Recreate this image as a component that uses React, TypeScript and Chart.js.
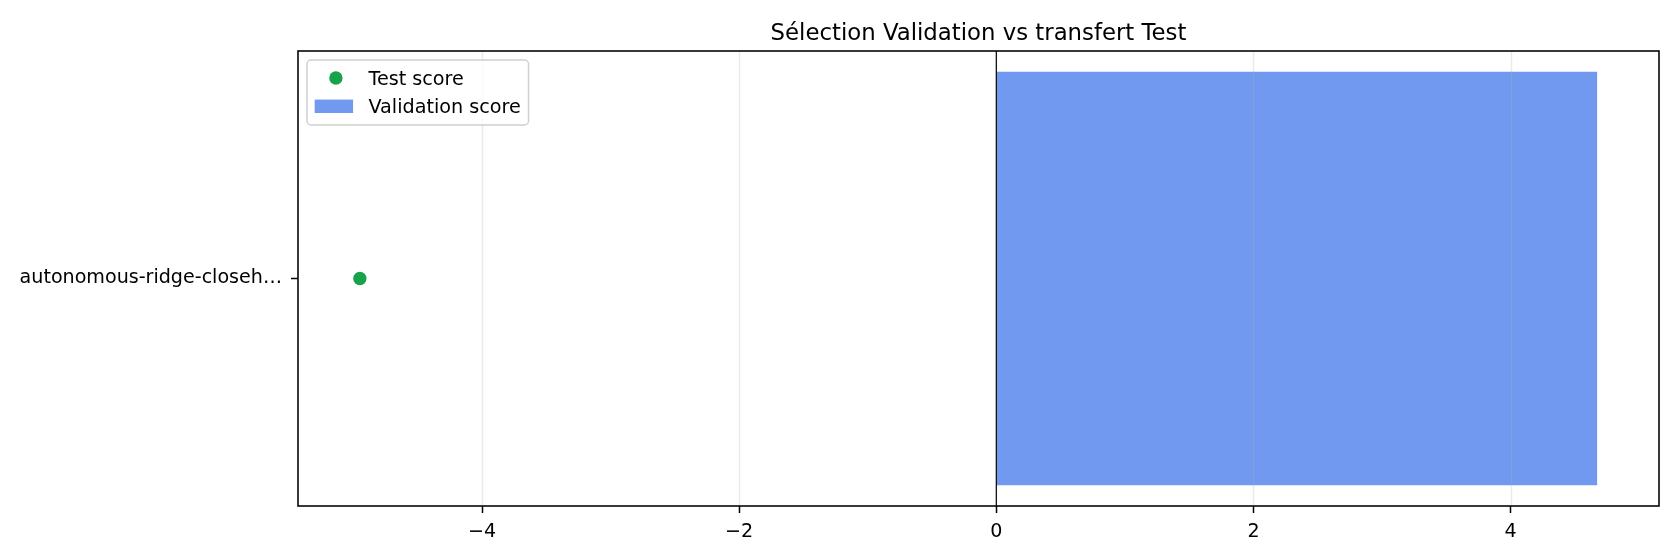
import React, { useEffect, useRef } from 'react';
import { Chart, registerables } from 'chart.js';

Chart.register(...registerables);

// ---- data ----
const TITLE = 'Sélection Validation vs transfert Test';
const categories = ['autonomous-ridge-closeh…'];
const testScores = [-4.95];
const validationScores = [4.673];
const seriesLabels = ['Test score', 'Validation score'];
const xTickValues = [-4, -2, 0, 2, 4];

// ---- style ----
const FONT = '"DejaVu Sans", "Liberation Sans", sans-serif';
const TICK_FS = 19.1;
const LEGEND_FS = 19.2;
const TITLE_FS = 22.8;
const GREEN = '#16A34A';
const BLUE = 'rgb(113,153,240)';

const fmt = (v: number) => (v < 0 ? '\u2212' + Math.abs(v) : String(v));

const overlayPlugin = {
  id: 'mplOverlay',
  afterDatasetsDraw(chart: any) {
    const { ctx, chartArea: a } = chart;
    const xs = chart.scales.x;
    ctx.save();
    // vertical grid lines (drawn above bars like the reference)
    ctx.strokeStyle = 'rgba(176,176,176,0.27)';
    ctx.lineWidth = 1.4;
    for (const t of xs.ticks) {
      const px = Math.round(xs.getPixelForValue(t.value)) + 0.5;
      ctx.beginPath();
      ctx.moveTo(px, a.top);
      ctx.lineTo(px, a.bottom);
      ctx.stroke();
    }
    // zero line
    const z = xs.getPixelForValue(0);
    ctx.strokeStyle = '#000';
    ctx.lineWidth = 1.2;
    ctx.beginPath();
    ctx.moveTo(z, a.top);
    ctx.lineTo(z, a.bottom);
    ctx.stroke();
    ctx.restore();
  },
  afterDraw(chart: any) {
    const { ctx, chartArea: a } = chart;
    ctx.save();
    // spines
    ctx.strokeStyle = '#000';
    ctx.lineWidth = 1.56;
    ctx.strokeRect(a.left, a.top, a.right - a.left, a.bottom - a.top);

    // legend
    const em = LEGEND_FS;
    ctx.font = `${em}px ${FONT}`;
    const ds = chart.data.datasets;
    const labels = ds.map((d: any) => d.label as string);
    const tw = Math.max(...labels.map((l: string) => ctx.measureText(l).width));
    const pad = 0.4 * em;
    const handleLen = 2 * em;
    const htp = 0.8 * em;
    const bx = a.left + 9;
    const by = a.top + 9;
    const bw = pad + handleLen + htp + tw + pad;
    const rowGap = 28.3;
    const bh = 65;
    ctx.beginPath();
    (ctx as any).roundRect(bx, by, bw, bh, 4);
    ctx.fillStyle = 'rgba(255,255,255,0.8)';
    ctx.fill();
    ctx.strokeStyle = '#d0d0d0';
    ctx.lineWidth = 1.5;
    ctx.stroke();
    const row0 = by + 18;
    ds.forEach((d: any, i: number) => {
      const cy = row0 + i * rowGap;
      const hx = bx + pad;
      ctx.fillStyle = d.backgroundColor;
      if (d.type === 'scatter') {
        ctx.beginPath();
        ctx.arc(hx + handleLen / 2 + 2, cy, d.pointRadius, 0, Math.PI * 2);
        ctx.fill();
      } else {
        const ph = 0.7 * em;
        ctx.fillRect(hx, cy - ph / 2, handleLen, ph);
      }
      ctx.fillStyle = '#000';
      ctx.textAlign = 'left';
      ctx.textBaseline = 'alphabetic';
      ctx.fillText(d.label, hx + handleLen + htp, cy + 6.6);
    });

    // title centred over the axes
    ctx.font = `${TITLE_FS}px ${FONT}`;
    ctx.fillStyle = '#000';
    ctx.textAlign = 'center';
    ctx.textBaseline = 'alphabetic';
    ctx.fillText(TITLE, (a.left + a.right) / 2, 39.5);
    ctx.restore();
  },
};

export default function App() {
  const ref = useRef<HTMLCanvasElement>(null);

  useEffect(() => {
    const canvas = ref.current;
    if (!canvas) return;
    const all = [...testScores, ...validationScores, 0];
    const lo = Math.min(...all);
    const hi = Math.max(...all);
    const m = 0.05 * (hi - lo);

    const chart = new Chart(canvas, {
      type: 'bar',
      data: {
        labels: categories,
        datasets: [
          {
            type: 'scatter',
            label: seriesLabels[0],
            indexAxis: 'y',
            data: categories.map((c, i) => ({ x: testScores[i], y: c })),
            backgroundColor: GREEN,
            borderWidth: 0,
            pointRadius: 6.7,
            pointHoverRadius: 6.7,
          } as any,
          {
            type: 'bar',
            label: seriesLabels[1],
            data: validationScores,
            backgroundColor: BLUE,
            borderWidth: 0,
            barPercentage: 0.8 / 0.88,
            categoryPercentage: 1,
          } as any,
        ],
      },
      options: {
        indexAxis: 'y',
        responsive: false,
        animation: false,
        devicePixelRatio: 1,
        layout: { padding: { top: 51, right: 21, left: 0, bottom: 0 } },
        scales: {
          x: {
            type: 'linear',
            position: 'bottom',
            min: lo - m,
            max: hi + m,
            afterBuildTicks: (s: any) => {
              s.ticks = xTickValues.map((v) => ({ value: v }));
            },
            afterFit: (s: any) => {
              s.height = 54;
            },
            ticks: {
              color: '#000',
              font: { family: FONT, size: TICK_FS },
              padding: 8,
              maxRotation: 0,
              callback: (v: any) => fmt(Number(v)),
            },
            grid: {
              drawOnChartArea: false,
              drawTicks: true,
              tickLength: 7,
              tickColor: '#000',
              tickWidth: 1.5,
            },
            border: { display: false },
          },
          y: {
            type: 'category',
            offset: true,
            afterFit: (s: any) => {
              s.width = 298;
            },
            ticks: {
              color: '#000',
              font: { family: FONT, size: TICK_FS },
              padding: 9,
            },
            grid: {
              drawOnChartArea: false,
              drawTicks: true,
              tickLength: 7,
              tickColor: '#000',
              tickWidth: 1.5,
              offset: false,
            },
            border: { display: false },
          },
        } as any,
        plugins: {
          legend: { display: false },
          title: { display: false },
          tooltip: { enabled: false },
        },
      },
      plugins: [overlayPlugin],
    });
    return () => chart.destroy();
  }, []);

  return (
    <div style={{ position: 'absolute', left: 0, top: 0, width: 1680, height: 560, background: '#fff' }}>
      <canvas ref={ref} width={1680} height={560} style={{ display: 'block', width: 1680, height: 560 }} />
    </div>
  );
}
